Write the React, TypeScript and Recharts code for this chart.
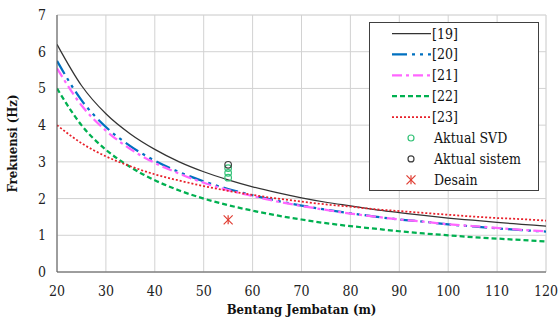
import { CartesianGrid, ComposedChart, Legend, Line, Scatter, XAxis, YAxis } from 'recharts'

// bridge span (m)
const spans = [20, 25, 30, 35, 40, 45, 50, 55, 60, 65, 70, 75, 80, 85, 90, 95, 100, 105, 110, 115, 120]

// frequency estimates (Hz) per reference
const ref19 = [6.2, 5.08, 4.31, 3.76, 3.34, 3.0, 2.73, 2.51, 2.32, 2.16, 2.02, 1.9, 1.8, 1.7, 1.62, 1.54, 1.47, 1.41, 1.35, 1.3, 1.25]
const ref20 = [5.75, 4.68, 3.95, 3.43, 3.03, 2.72, 2.47, 2.26, 2.09, 1.94, 1.81, 1.7, 1.6, 1.51, 1.43, 1.37, 1.3, 1.24, 1.19, 1.14, 1.1]
const ref21 = [5.55, 4.54, 3.85, 3.35, 2.97, 2.68, 2.43, 2.23, 2.07, 1.92, 1.8, 1.69, 1.59, 1.51, 1.43, 1.37, 1.3, 1.25, 1.2, 1.15, 1.11]
const ref22 = [5.0, 4.0, 3.33, 2.86, 2.5, 2.22, 2.0, 1.82, 1.67, 1.54, 1.43, 1.33, 1.25, 1.18, 1.11, 1.05, 1.0, 0.95, 0.91, 0.87, 0.83]
const ref23 = [4.0, 3.51, 3.15, 2.88, 2.66, 2.49, 2.34, 2.21, 2.1, 2.0, 1.92, 1.84, 1.78, 1.71, 1.66, 1.61, 1.56, 1.51, 1.47, 1.44, 1.4]

// measured / design points
const svdPoints = [
  { x: 55, y: 2.83 },
  { x: 55, y: 2.7 },
  { x: 55, y: 2.57 },
]
const sistemPoints = [{ x: 55, y: 2.92 }]
const desainPoints = [{ x: 55, y: 1.42 }]

const xTicks = [20, 30, 40, 50, 60, 70, 80, 90, 100, 110, 120]
const yTicks = [0, 1, 2, 3, 4, 5, 6, 7]
const xMinorTicks = [20, 22, 24, 26, 28, 30, 32, 34, 36, 38, 40, 42, 44, 46, 48, 50, 52, 54, 56, 58, 60, 62, 64, 66, 68, 70, 72, 74, 76, 78, 80, 82, 84, 86, 88, 90, 92, 94, 96, 98, 100, 102, 104, 106, 108, 110, 112, 114, 116, 118, 120]
const yMinorTicks = [0, 0.2, 0.4, 0.6, 0.8, 1, 1.2, 1.4, 1.6, 1.8, 2, 2.2, 2.4, 2.6, 2.8, 3, 3.2, 3.4, 3.6, 3.8, 4, 4.2, 4.4, 4.6, 4.8, 5, 5.2, 5.4, 5.6, 5.8, 6, 6.2, 6.4, 6.6, 6.8, 7]

// only DejaVu Serif resolves to a serif face here
const FONT = '"DejaVu Serif Condensed", "DejaVu Serif", serif'

type LineSeries = { name: string; values: number[]; color: string; width: number; dash?: string }

const lineSeries: LineSeries[] = [
  { name: '[19]', values: ref19, color: '#333333', width: 1.25 },
  { name: '[20]', values: ref20, color: '#0070C0', width: 2.25, dash: '15 5 3 5 3 5' },
  { name: '[21]', values: ref21, color: '#FF66FF', width: 2.25, dash: '10 4 3 4' },
  { name: '[22]', values: ref22, color: '#00B050', width: 2.25, dash: '5 3' },
  { name: '[23]', values: ref23, color: '#E8202A', width: 1.75, dash: '2 2' },
]

const toPoints = (values: number[]) => spans.map((x, i) => ({ x, y: values[i] }))

const circleShape = (color: string) => (props: { cx?: number; cy?: number }) => (
  <circle cx={props.cx} cy={props.cy} r={3.3} fill="none" stroke={color} strokeWidth={1.2} />
)

const starShape = (props: { cx?: number; cy?: number }) => {
  const cx = props.cx ?? 0
  const cy = props.cy ?? 0
  const r = 4.5
  return (
    <g stroke="#E03C31" strokeWidth={1.2}>
      <line x1={cx - r} y1={cy - r} x2={cx + r} y2={cy + r} />
      <line x1={cx - r} y1={cy + r} x2={cx + r} y2={cy - r} />
      <line x1={cx} y1={cy - r} x2={cx} y2={cy + r} />
    </g>
  )
}

const legendText = { fontSize: 14, fontFamily: FONT, fill: '#111' }

function LegendBox() {
  const rowY = (i: number) => 11.5 + i * 20.9
  return (
    <svg width={171} height={170} style={{ display: 'block' }}>
      <rect x={0.5} y={0.5} width={169} height={168} fill="#ffffff" stroke="#404040" strokeWidth={1} />
      {lineSeries.map((s, i) => (
        <g key={s.name}>
          <line x1={23} x2={62} y1={rowY(i)} y2={rowY(i)} stroke={s.color} strokeWidth={s.width} strokeDasharray={s.dash} />
          <text x={63} y={rowY(i) + 5} style={legendText}>{s.name}</text>
        </g>
      ))}
      <circle cx={42} cy={rowY(5)} r={3} fill="none" stroke="#33C277" strokeWidth={1.2} />
      <text x={65} y={rowY(5) + 5} style={legendText}>Aktual SVD</text>
      <circle cx={42} cy={rowY(6)} r={3} fill="none" stroke="#404040" strokeWidth={1.2} />
      <text x={65} y={rowY(6) + 5} style={legendText}>Aktual sistem</text>
      {starShape({ cx: 42, cy: rowY(7) })}
      <text x={65} y={rowY(7) + 5} style={legendText}>Desain</text>
    </svg>
  )
}

export default function App() {
  const tickStyle = { fill: '#222', fontSize: 14, fontFamily: FONT }
  const titleStyle = { fontWeight: 'bold', fontSize: 13, fill: '#111', fontFamily: FONT }
  return (
    <div style={{ position: 'absolute', left: 0, top: 0, width: 558, height: 317, background: '#fff' }}>
      <ComposedChart width={558} height={317} margin={{ top: 15, right: 12, bottom: 0, left: 0 }}>
        <XAxis xAxisId="minor" type="number" dataKey="x" orientation="top" domain={[20, 120]} ticks={xMinorTicks} height={0} tick={false} tickLine={false} axisLine={{ stroke: '#b0b0b0' }} allowDataOverflow />
        <YAxis yAxisId="minor" type="number" orientation="right" domain={[0, 7]} ticks={yMinorTicks} width={0} tick={false} tickLine={false} axisLine={{ stroke: '#b0b0b0' }} allowDataOverflow />
        <CartesianGrid xAxisId="minor" yAxisId="minor" stroke="#ececec" strokeWidth={1} />
        <CartesianGrid stroke="#d2d2d2" strokeWidth={1} />
        <XAxis
          type="number"
          dataKey="x"
          domain={[20, 120]}
          ticks={xTicks}
          height={45}
          tickLine={false}
          tickSize={0}
          tickMargin={14}
          tick={tickStyle}
          axisLine={{ stroke: '#595959' }}
          allowDataOverflow
          label={{ value: 'Bentang Jembatan (m)', position: 'insideBottom', offset: 3, style: titleStyle }}
        />
        <YAxis
          type="number"
          domain={[0, 7]}
          ticks={yTicks}
          width={57}
          tickLine={false}
          tickSize={0}
          tickMargin={11}
          tick={tickStyle}
          axisLine={{ stroke: '#595959' }}
          allowDataOverflow
          label={{ value: 'Frekuensi (Hz)', angle: -90, position: 'insideLeft', offset: 12, style: { ...titleStyle, textAnchor: 'middle' } }}
        />
        {lineSeries.map((s) => (
          <Line
            key={s.name}
            data={toPoints(s.values)}
            dataKey="y"
            name={s.name}
            type="monotone"
            stroke={s.color}
            strokeWidth={s.width}
            strokeDasharray={s.dash}
            dot={false}
            activeDot={false}
            isAnimationActive={false}
          />
        ))}
        <Scatter name="Aktual SVD" data={svdPoints} dataKey="y" shape={circleShape('#33C277')} isAnimationActive={false} />
        <Scatter name="Aktual sistem" data={sistemPoints} dataKey="y" shape={circleShape('#404040')} isAnimationActive={false} />
        <Scatter name="Desain" data={desainPoints} dataKey="y" shape={starShape} isAnimationActive={false} />
        <Legend layout="vertical" align="center" verticalAlign="middle" wrapperStyle={{ left: 369, top: 22, width: 171, height: 170 }} content={() => <LegendBox />} />
      </ComposedChart>
    </div>
  )
}
